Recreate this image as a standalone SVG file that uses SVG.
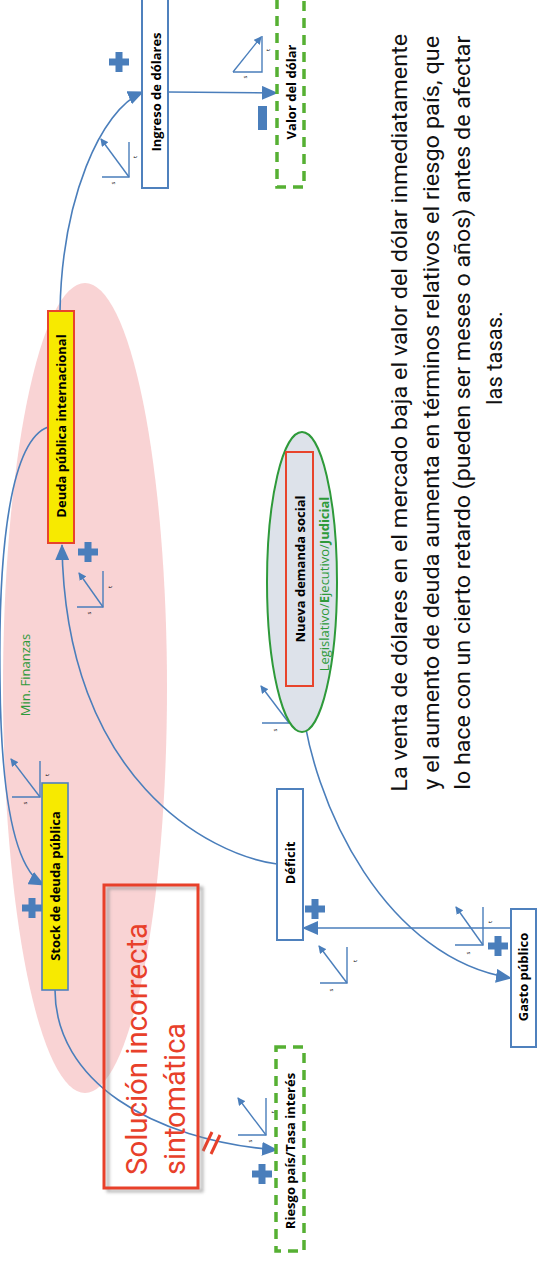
<svg xmlns="http://www.w3.org/2000/svg" width="545" height="1262" viewBox="0 0 545 1262">
<style>
.bg{fill:#ffffff}
.ln{fill:none;stroke:#4a7ebb;stroke-width:1.6}
.sl{fill:none;stroke:#4a7ebb;stroke-width:1.4}
.box{fill:#ffffff;stroke:#4f81bd;stroke-width:2}
.ybox{fill:#f7ea00}
.gdash{fill:#ffffff;stroke:#56b033;stroke-width:3.5;stroke-dasharray:10 7}
.lbl{font-family:"Open Sans","Liberation Sans",sans-serif;font-weight:bold;font-size:13px;fill:#000;text-anchor:middle;dominant-baseline:central}
.st{font-family:"Open Sans","Liberation Sans",sans-serif;font-size:6px;fill:#000;text-anchor:middle;dominant-baseline:central}
.grn{font-family:"Open Sans","Liberation Sans",sans-serif;font-size:13px;fill:#2e9a3a;text-anchor:middle;dominant-baseline:central}
.par{font-family:Roboto,"Open Sans",sans-serif;font-size:22px;fill:#111;text-anchor:middle}
.sol{font-family:Roboto,"Open Sans",sans-serif;font-size:29px;fill:#e8402a}
.plus{fill:#4a7ebb}
</style>
<defs>
<marker id="ah" markerUnits="userSpaceOnUse" viewBox="0 0 16 14" markerWidth="16" markerHeight="14" refX="15" refY="7" orient="auto"><path d="M0,0 L16,7 L0,14 z" fill="#4a7ebb"/></marker>
<marker id="sa" markerUnits="userSpaceOnUse" viewBox="0 0 8 8" markerWidth="8" markerHeight="8" refX="7" refY="4" orient="auto"><path d="M0,0 L8,4 L0,8 z" fill="#4a7ebb"/></marker>
<g id="plusg"><rect x="-10" y="-3.5" width="20" height="7" class="plus"/><rect x="-3.5" y="-10" width="7" height="20" class="plus"/></g>
<filter id="blur" x="-10%" y="-10%" width="120%" height="120%"><feGaussianBlur stdDeviation="1.5"/></filter>
</defs>
<rect class="bg" x="0" y="0" width="545" height="1262"/>

<g id="pink-area">
<ellipse cx="85" cy="688" rx="82" ry="405" fill="#f9d3d4"/>
<text class="grn" transform="translate(25,675) rotate(-90)">Min. Finanzas</text>
</g>

<g id="connectors">
<path class="ln" d="M168,92 L277,93" marker-end="url(#ah)"/>
<path class="ln" d="M60,311 C62,200 100,110 143,92" marker-end="url(#ah)"/>
<path class="ln" d="M48,427 C12,440 -2,540 0,680 C1,800 15,870 44,885" marker-end="url(#ah)"/>
<path class="ln" d="M277,864 C210,855 65,780 62,545" marker-end="url(#ah)"/>
<path class="ln" d="M511,928 L303,928" marker-end="url(#ah)"/>
<path class="ln" d="M300,687 C310,810 390,960 511,978" marker-end="url(#ah)"/>
<path class="ln" d="M55,990 C55,1080 150,1140 277,1150" marker-end="url(#ah)"/>
<path d="M203,1151 L212,1132 M211,1154 L220,1135" stroke="#e8402a" stroke-width="3" fill="none"/>
</g>

<g id="polarity">
<use href="#plusg" transform="translate(119,62)"/>
<use href="#plusg" transform="translate(88,552)"/>
<use href="#plusg" transform="translate(32,908)"/>
<use href="#plusg" transform="translate(315,909)"/>
<use href="#plusg" transform="translate(498,946)"/>
<use href="#plusg" transform="translate(262,1174)"/>
<rect x="258" y="106" width="9" height="24" class="plus"/>
</g>

<g id="delays">
<path class="sl" d="M129,142 V177 H102"/><path class="sl" d="M129,177 L101,139" marker-end="url(#sa)"/>
<text class="st" transform="translate(135,157) rotate(-90)">t</text><text class="st" transform="translate(113,183) rotate(-90)">s</text>

<path class="sl" d="M262,36 V72 H233"/><path class="sl" d="M233,72 L261,37" marker-end="url(#sa)"/>
<text class="st" transform="translate(268,50) rotate(-90)">t</text><text class="st" transform="translate(245,77) rotate(-90)">s</text>

<path class="sl" d="M103,571 V607 H77"/><path class="sl" d="M103,607 L79,573" marker-end="url(#sa)"/>
<text class="st" transform="translate(110,587) rotate(-90)">t</text><text class="st" transform="translate(89,613) rotate(-90)">s</text>

<path class="sl" d="M40,761 V797 H12"/><path class="sl" d="M40,797 L11,759" marker-end="url(#sa)"/>
<text class="st" transform="translate(47,775) rotate(-90)">t</text><text class="st" transform="translate(25,803) rotate(-90)">s</text>

<path class="sl" d="M289,687 V723 H262"/><path class="sl" d="M289,723 L261,686" marker-end="url(#sa)"/>
<text class="st" transform="translate(297,703) rotate(-90)">t</text><text class="st" transform="translate(275,730) rotate(-90)">s</text>

<path class="sl" d="M347,947 V983 H320"/><path class="sl" d="M347,983 L319,946" marker-end="url(#sa)"/>
<text class="st" transform="translate(355,961) rotate(-90)">t</text><text class="st" transform="translate(331,990) rotate(-90)">s</text>

<path class="sl" d="M483,907 V945 H455"/><path class="sl" d="M483,945 L456,907" marker-end="url(#sa)"/>
<text class="st" transform="translate(490,922) rotate(-90)">t</text><text class="st" transform="translate(468,953) rotate(-90)">s</text>

<path class="sl" d="M266,1098 V1135 H238"/><path class="sl" d="M266,1135 L238,1098" marker-end="url(#sa)"/>
<text class="st" transform="translate(273,1112) rotate(-90)">t</text><text class="st" transform="translate(250,1141) rotate(-90)">s</text>
</g>

<g id="node-ingreso">
<rect class="box" x="142" y="-3" width="26" height="191"/>
<text class="lbl" transform="translate(156,92) rotate(-90)">Ingreso de dólares</text>
</g>

<g id="node-valor">
<rect class="gdash" x="277" y="-6" width="27" height="193"/>
<text class="lbl" transform="translate(291,92) rotate(-90)">Valor del dólar</text>
</g>

<g id="node-deuda-int">
<rect class="ybox" x="48" y="311" width="26" height="232" stroke="#e8442c" stroke-width="2"/>
<text class="lbl" transform="translate(61,426) rotate(-90)">Deuda pública internacional</text>
</g>

<g id="node-stock">
<rect class="ybox" x="42" y="783" width="26" height="207" stroke="#4f81bd" stroke-width="1.6"/>
<text class="lbl" transform="translate(55,886) rotate(-90)">Stock de deuda pública</text>
</g>

<g id="node-nueva">
<ellipse cx="302" cy="582" rx="35" ry="150" fill="#dde2ea" stroke="#2e9a3a" stroke-width="2"/>
<rect x="286" y="452" width="27" height="234" fill="none" stroke="#e8442c" stroke-width="2"/>
<text class="lbl" transform="translate(300,569) rotate(-90)">Nueva demanda social</text>
<text class="grn" transform="translate(324,584) rotate(-90)">Legislativo/<tspan font-weight="bold">E</tspan>jecutivo/<tspan font-weight="bold">Judicial</tspan></text>
</g>

<g id="node-deficit">
<rect class="box" x="277" y="789" width="26" height="151"/>
<text class="lbl" transform="translate(290,863) rotate(-90)">Déficit</text>
</g>

<g id="node-gasto">
<rect class="box" x="511" y="909" width="25" height="138"/>
<text class="lbl" transform="translate(523,977) rotate(-90)">Gasto público</text>
</g>

<g id="node-riesgo">
<rect class="gdash" x="276" y="1047" width="28" height="204"/>
<text class="lbl" transform="translate(290,1151) rotate(-90)">Riesgo país/Tasa interés</text>
</g>

<g id="node-solucion">
<rect x="108" y="888" width="94" height="303" fill="none" stroke="#8a8a8a" stroke-width="3" opacity="0.6" filter="url(#blur)"/>
<rect x="104" y="885" width="94" height="303" fill="none" stroke="#e8402a" stroke-width="3"/>
<text class="sol" transform="rotate(-90)"><tspan x="-1175" y="147" textLength="252" lengthAdjust="spacingAndGlyphs">Solución incorrecta</tspan><tspan x="-1175" y="185" textLength="152" lengthAdjust="spacingAndGlyphs">sintomática</tspan></text>
</g>

<g id="note">
<text class="par" transform="rotate(-90)">
<tspan x="-410" y="407" textLength="758" lengthAdjust="spacingAndGlyphs">La venta de dólares en el mercado baja el valor del dólar inmediatamente</tspan>
<tspan x="-410" y="439" textLength="754" lengthAdjust="spacingAndGlyphs">y el aumento de deuda aumenta en términos relativos el riesgo país, que</tspan>
<tspan x="-410" y="470" textLength="754" lengthAdjust="spacingAndGlyphs">lo hace con un cierto retardo (pueden ser meses o años) antes de afectar</tspan>
<tspan x="-358" y="502">las tasas.</tspan>
</text>
</g>
</svg>
